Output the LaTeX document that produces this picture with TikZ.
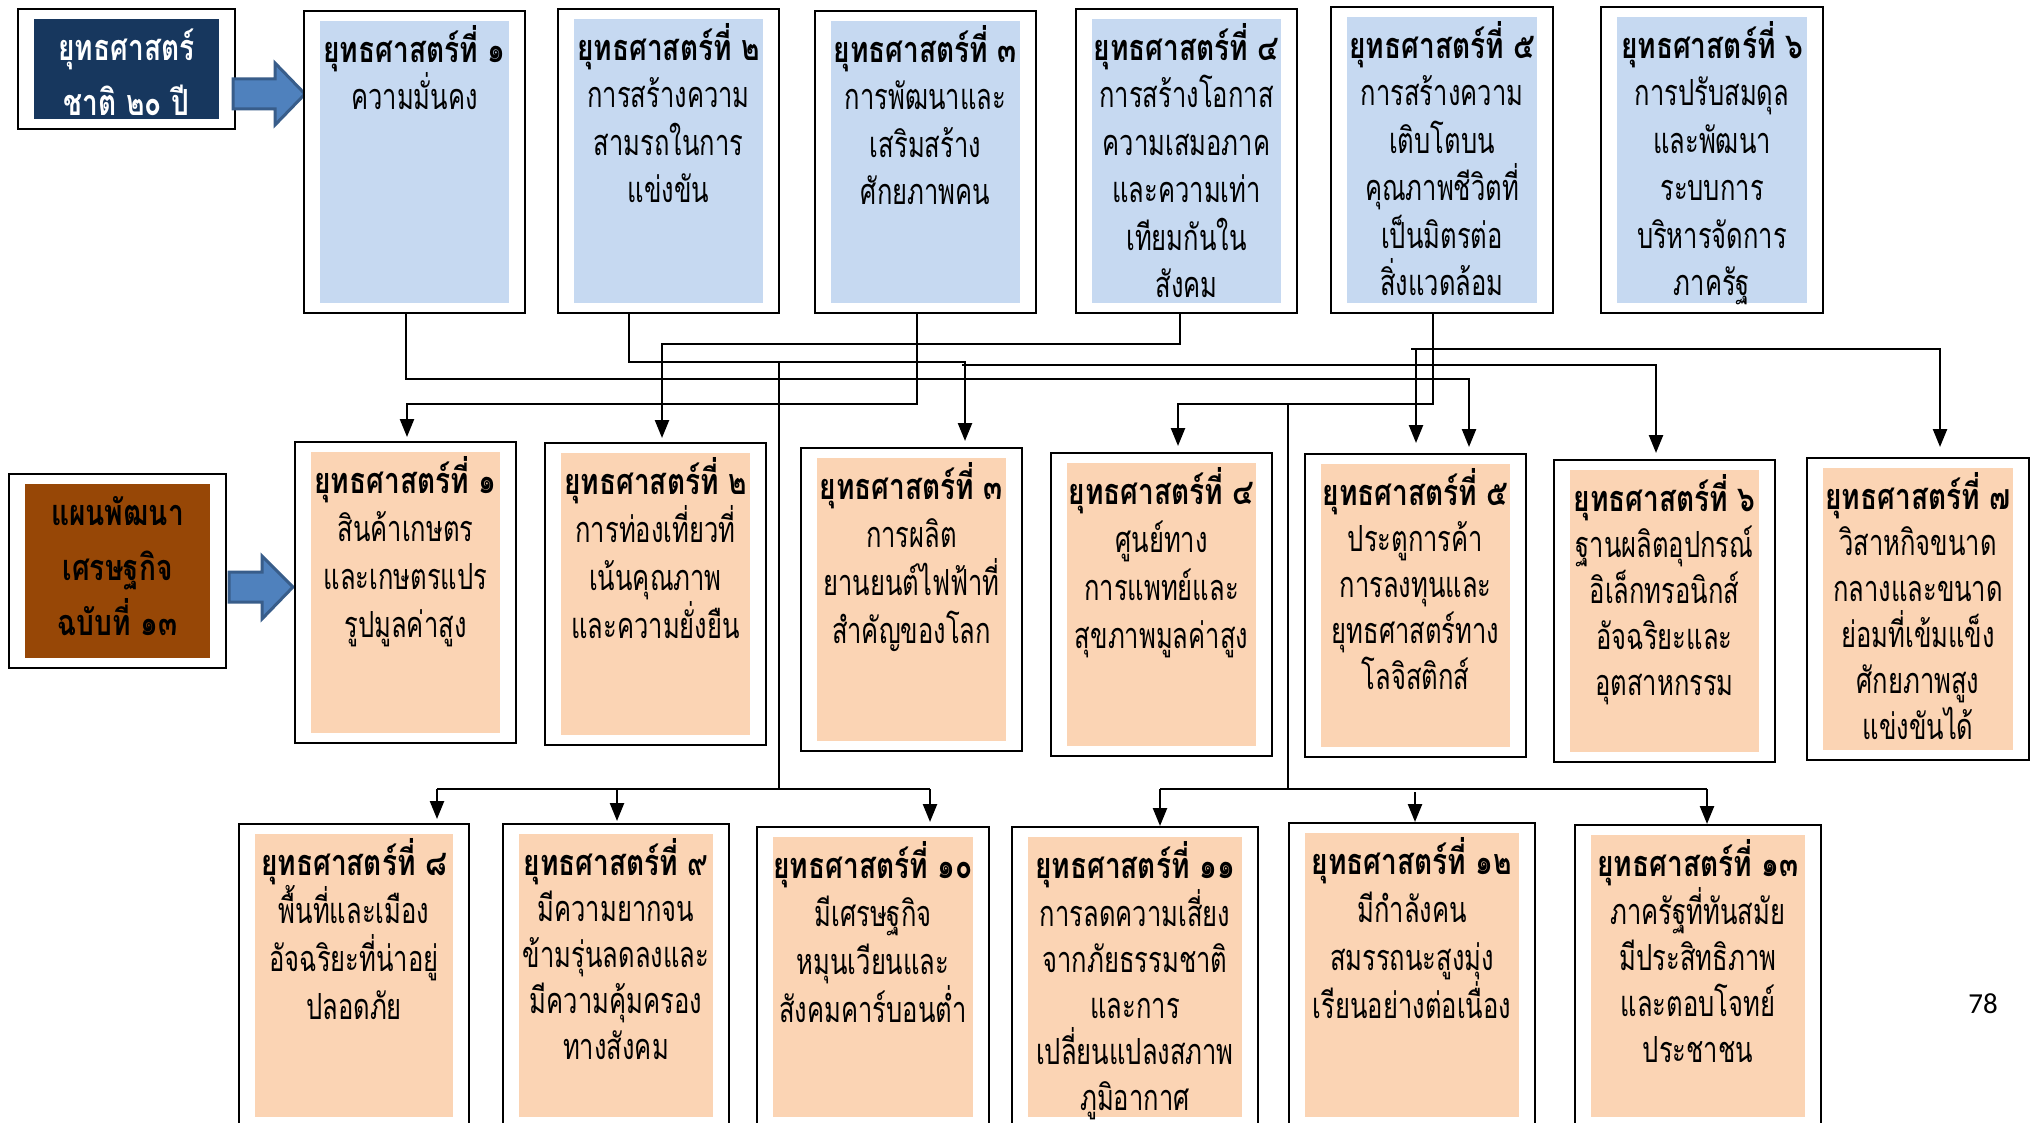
\documentclass[tikz,border=0pt]{standalone}
\usepackage{fontspec}
\newfontfamily\thai[Script=Thai,UprightFeatures={FakeStretch=0.71},BoldFeatures={FakeStretch=0.78}]{Loma}
\newfontfamily\pgnum{Carlito}
\usetikzlibrary{arrows.meta}
\definecolor{navy}{HTML}{17375E}
\definecolor{brownbox}{HTML}{974706}
\definecolor{lblue}{HTML}{C6D9F1}
\definecolor{peach}{HTML}{FBD4B4}
\definecolor{arrblue}{HTML}{4F81BD}
\definecolor{arrline}{HTML}{385D8A}
\tikzset{
  outerbox/.style={draw=black, line width=1pt, fill=white, inner sep=0pt},
  innerbox/.style={draw=none, inner sep=0pt},
  txt/.style={align=center, inner sep=0pt, font=\thai\fontsize{18}{23.75}\selectfont},
  txtf/.style={align=center, inner sep=0pt, font=\thai\fontsize{18}{24}\selectfont},
  txtm/.style={align=center, inner sep=0pt, font=\thai\fontsize{18}{23}\selectfont},
  txtc/.style={align=center, inner sep=0pt, font=\thai\bfseries\fontsize{18}{27.5}\selectfont},
  conn/.style={line width=1.2pt, black},
  arr/.style={conn, -{Triangle[length=9pt,width=7pt]}},
  blockarrow/.style={fill=arrblue, draw=arrline, line width=1.5pt, line join=miter},
}
\newcommand\stratbox[8]{%
  \node[outerbox, minimum width={(#4-#2)*0.5pt}, minimum height={(#5-#3)*0.5pt}] (#1) at ({(#2+#4)/2},{(#3+#5)/2}) {};
  \node[innerbox, fill=#6, minimum width={(#4-#2-32)*0.5pt}, minimum height={(#5-#3-20)*0.5pt}] (#1i) at (#1.center) {};
  \node[#8, anchor=north] (#1t) at ([yshift=-0.7pt]#1i.north) {\rule{0pt}{20pt}#7};
}
\begin{document}
\begin{tikzpicture}[x=0.5pt,y=-0.5pt]
\useasboundingbox (0,0) rectangle (2038,1123);
\fill[white] (0,0) rectangle (2038,1123);

% left title boxes
\stratbox{nat}{18}{9}{235}{129}{navy}{\textcolor{white}{ยุทธศาสตร์}\\\textcolor{white}{ชาติ ๒๐ ปี}}{txtc}
\stratbox{plan}{9}{474}{226}{668}{brownbox}{แผนพัฒนา\\เศรษฐกิจ\\ฉบับที่ ๑๓}{txtc}

% block arrows
\path[blockarrow] (233,79) -- (275,79) -- (275,63) -- (305,94) -- (275,125) -- (275,109) -- (233,109) -- cycle;
\path[blockarrow] (229,572) -- (262,572) -- (262,556) -- (293,587) -- (262,619) -- (262,602) -- (229,602) -- cycle;

% row 1: national strategies
\stratbox{s1}{304}{11}{525}{313}{lblue}{\textbf{ยุทธศาสตร์ที่ ๑}\\ความมั่นคง}{txt}
\stratbox{s2}{558}{9}{779}{313}{lblue}{\textbf{ยุทธศาสตร์ที่ ๒}\\การสร้างความ\\สามรถในการ\\แข่งขัน}{txt}
\stratbox{s3}{815}{11}{1036}{313}{lblue}{\textbf{ยุทธศาสตร์ที่ ๓}\\การพัฒนาและ\\เสริมสร้าง\\ศักยภาพคน}{txt}
\stratbox{s4}{1076}{9}{1297}{313}{lblue}{\textbf{ยุทธศาสตร์ที่ ๔}\\การสร้างโอกาส\\ความเสมอภาค\\และความเท่า\\เทียมกันใน\\สังคม}{txt}
\stratbox{s5}{1331}{7}{1553}{313}{lblue}{\textbf{ยุทธศาสตร์ที่ ๕}\\การสร้างความ\\เติบโตบน\\คุณภาพชีวิตที่\\เป็นมิตรต่อ\\สิ่งแวดล้อม}{txt}
\stratbox{s6}{1601}{7}{1823}{313}{lblue}{\textbf{ยุทธศาสตร์ที่ ๖}\\การปรับสมดุล\\และพัฒนา\\ระบบการ\\บริหารจัดการ\\ภาครัฐ}{txt}

% row 2
\stratbox{e1}{295}{442}{516}{743}{peach}{\textbf{ยุทธศาสตร์ที่ ๑}\\สินค้าเกษตร\\และเกษตรแปร\\รูปมูลค่าสูง}{txtf}
\stratbox{e2}{545}{443}{766}{745}{peach}{\textbf{ยุทธศาสตร์ที่ ๒}\\การท่องเที่ยวที่\\เน้นคุณภาพ\\และความยั่งยืน}{txtf}
\stratbox{e3}{801}{448}{1022}{751}{peach}{\textbf{ยุทธศาสตร์ที่ ๓}\\การผลิต\\ยานยนต์ไฟฟ้าที่\\สำคัญของโลก}{txtf}
\stratbox{e4}{1051}{453}{1272}{756}{peach}{\textbf{ยุทธศาสตร์ที่ ๔}\\ศูนย์ทาง\\การแพทย์และ\\สุขภาพมูลค่าสูง}{txtf}
\stratbox{e5}{1305}{454}{1526}{757}{peach}{\textbf{ยุทธศาสตร์ที่ ๕}\\ประตูการค้า\\การลงทุนและ\\ยุทธศาสตร์ทาง\\โลจิสติกส์}{txtm}
\stratbox{e6}{1554}{460}{1775}{762}{peach}{\textbf{ยุทธศาสตร์ที่ ๖}\\ฐานผลิตอุปกรณ์\\อิเล็กทรอนิกส์\\อัจฉริยะและ\\อุตสาหกรรม}{txtm}
\stratbox{e7}{1807}{458}{2029}{760}{peach}{\textbf{ยุทธศาสตร์ที่ ๗}\\วิสาหกิจขนาด\\กลางและขนาด\\ย่อมที่เข้มแข็ง\\ศักยภาพสูง\\แข่งขันได้}{txtm}

% row 3
\stratbox{e8}{239}{824}{469}{1127}{peach}{\textbf{ยุทธศาสตร์ที่ ๘}\\พื้นที่และเมือง\\อัจฉริยะที่น่าอยู่\\ปลอดภัย}{txtf}
\stratbox{e9}{503}{824}{729}{1127}{peach}{\textbf{ยุทธศาสตร์ที่ ๙}\\มีความยากจน\\ข้ามรุ่นลดลงและ\\มีความคุ้มครอง\\ทางสังคม}{txtm}
\stratbox{e10}{757}{827}{989}{1127}{peach}{\textbf{ยุทธศาสตร์ที่ ๑๐}\\มีเศรษฐกิจ\\หมุนเวียนและ\\สังคมคาร์บอนต่ำ}{txtf}
\stratbox{e11}{1012}{827}{1258}{1127}{peach}{\textbf{ยุทธศาสตร์ที่ ๑๑}\\การลดความเสี่ยง\\จากภัยธรรมชาติ\\และการ\\เปลี่ยนแปลงสภาพ\\ภูมิอากาศ}{txtm}
\stratbox{e12}{1289}{823}{1535}{1127}{peach}{\textbf{ยุทธศาสตร์ที่ ๑๒}\\มีกำลังคน\\สมรรถนะสูงมุ่ง\\เรียนอย่างต่อเนื่อง}{txtf}
\stratbox{e13}{1575}{825}{1821}{1127}{peach}{\textbf{ยุทธศาสตร์ที่ ๑๓}\\ภาครัฐที่ทันสมัย\\มีประสิทธิภาพ\\และตอบโจทย์\\ประชาชน}{txtm}

% junction coordinates
\coordinate (j1) at (406,379);  \coordinate (j1b) at (1469,379);
\coordinate (j2) at (917,404);  \coordinate (j2b) at (407,404);
\coordinate (j3) at (1180,344); \coordinate (j3b) at (662,344);
\coordinate (j4) at (629,362);  \coordinate (j4b) at (965,362);
\coordinate (j4c) at (962,365); \coordinate (j4d) at (1656,365);
\coordinate (j4e) at (779,362); \coordinate (j4f) at (779,789);
\coordinate (j5) at (1433,404); \coordinate (j5b) at (1178,404);
\coordinate (j5c) at (1288,404); \coordinate (j5d) at (1288,789);
\coordinate (j6) at (1411,349); \coordinate (j6b) at (1940,349);
\coordinate (j6c) at (1416,349);
\coordinate (b1) at (437,789); \coordinate (b2) at (617,789); \coordinate (b3) at (930,789);
\coordinate (r1) at (1160,789); \coordinate (r2) at (1415,789); \coordinate (r3) at (1707,789);

% connectors row 1 -> row 2
\draw[arr, shorten >=3pt] (s1.south -| j1) -- (j1) -- (j1b) -- (e5.north -| j1b);
\draw[arr, shorten >=2pt] (s3.south -| j2) -- (j2) -- (j2b) -- (e1.north -| j2b);
\draw[arr, shorten >=2pt] (s4.south -| j3) -- (j3) -- (j3b) -- (e2.north -| j3b);
\draw[arr, shorten >=3pt] (s2.south -| j4) -- (j4) -- (j4b) -- (e3.north -| j4b);
\draw[arr, shorten >=3pt] (j4c) -- (j4d) -- (e6.north -| j4d);
\draw[arr, shorten >=3pt] (s5.south -| j5) -- (j5) -- (j5b) -- (e4.north -| j5b);
\draw[arr, shorten >=5pt] (j6) -- (j6b) -- (e7.north -| j6b);
\draw[arr, shorten >=5pt] (j6c) -- (e5.north -| j6c);

% connectors to row 3
\draw[conn] (j4e) -- (j4f);
\draw[conn] (j5c) -- (j5d);
\draw[conn] (b1) -- (b3);
\draw[conn] (r1) -- (r3);
\draw[arr, shorten >=2pt] (b1) -- (e8.north -| b1);
\draw[arr, shorten >=1pt] (b2) -- (e9.north -| b2);
\draw[arr, shorten >=2pt] (b3) -- (e10.north -| b3);
\draw[arr] (r1) -- (e11.north -| r1);
\draw[arr] ([yshift=-1.5pt]r2) -- (e12.north -| r2);
\draw[arr] (r3) -- (e13.north -| r3);

% page number
\node[font=\pgnum\fontsize{14.5}{16}\selectfont, inner sep=0pt] (pg) at (1983,1004) {78};
\end{tikzpicture}
\end{document}
